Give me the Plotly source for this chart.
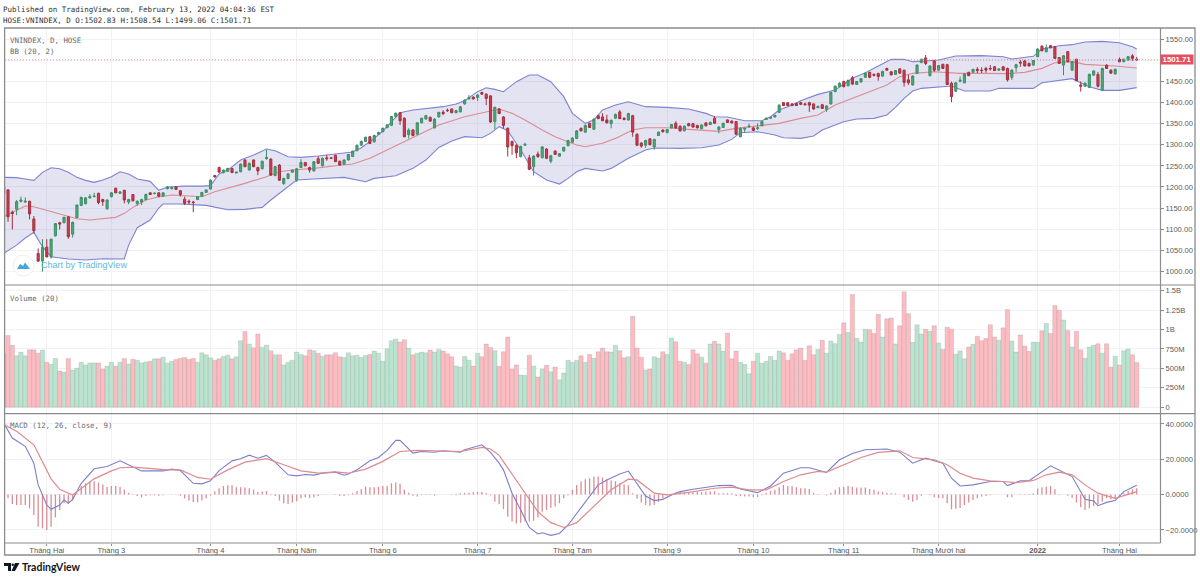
import plotly.graph_objects as go
from plotly.subplots import make_subplots

# price candles, bar 0 is the one cut off by the left edge
opens = [1199,1193,1140,1147,1166,1164,1166,1124,1042,1024,
    1057,1034,1084,1115,1115,1129,1088,1127,1156,1160,
    1174,1177,1185,1170,1148,1177,1197,1185,1192,1164,
    1182,1161,1164,1170,1186,1184,1186,1178,1196,1196,
    1200,1191,1171,1166,1164,1170,1178,1187,1195,1227,
    1246,1234,1237,1244,1233,1236,1264,1240,1264,1246,
    1243,1267,1266,1227,1252,1208,1220,1235,1216,1246,
    1258,1246,1238,1267,1250,1269,1269,1275,1261,1254,
    1264,1272,1286,1299,1308,1319,1307,1325,1331,1341,
    1346,1367,1376,1363,1324,1335,1325,1352,1361,1365,
    1340,1366,1377,1382,1385,1376,1378,1397,1409,1413,
    1412,1424,1420,1416,1355,1385,1366,1339,1308,1299,
    1272,1299,1269,1248,1278,1269,1290,1261,1285,1273,
    1285,1298,1306,1315,1339,1330,1351,1337,1369,1366,
    1359,1350,1363,1378,1363,1359,1369,1325,1304,1299,
    1314,1295,1322,1335,1329,1340,1351,1344,1333,1350,
    1350,1346,1338,1352,1348,1363,1336,1341,1359,1356,
    1355,1319,1337,1343,1340,1339,1345,1360,1363,1366,
    1377,1400,1400,1397,1398,1400,1397,1400,1397,1388,
    1395,1384,1397,1426,1438,1450,1440,1459,1443,1449,
    1460,1472,1467,1469,1463,1481,1473,1467,1480,1477,
    1454,1442,1469,1495,1506,1464,1499,1477,1491,1490,
    1446,1427,1451,1447,1472,1472,1479,1477,1481,1481,
    1485,1477,1485,1481,1460,1483,1496,1499,1493,1489,
    1509,1534,1521,1535,1533,1507,1489,1521,1477,1503,
    1442,1439,1436,1465,1467,1430,1489,1477,1468,1503,
    1497,1501,1511,1502.83]
highs = [1201,1195,1144,1169,1177,1175,1167,1131,1054,1076,
    1076,1077,1114,1117,1129,1130,1118,1158,1177,1176,
    1183,1186,1186,1172,1170,1188,1198,1190,1193,1172,
    1183,1168,1172,1184,1187,1187,1187,1187,1202,1200,
    1202,1192,1177,1170,1167,1178,1188,1194,1218,1228,
    1248,1241,1245,1245,1236,1256,1265,1258,1265,1248,
    1262,1288,1268,1250,1254,1222,1232,1241,1245,1266,
    1259,1248,1261,1273,1270,1276,1271,1276,1262,1265,
    1278,1286,1300,1310,1319,1321,1324,1331,1341,1349,
    1368,1376,1378,1365,1339,1337,1354,1364,1371,1367,
    1363,1378,1382,1386,1386,1383,1392,1408,1418,1415,
    1420,1426,1422,1418,1390,1387,1368,1341,1310,1301,
    1298,1305,1276,1275,1284,1296,1292,1276,1287,1280,
    1295,1312,1318,1335,1341,1348,1352,1363,1371,1375,
    1371,1360,1374,1382,1365,1376,1371,1327,1306,1312,
    1315,1314,1331,1337,1337,1349,1356,1346,1346,1352,
    1352,1347,1348,1353,1355,1368,1344,1352,1360,1358,
    1356,1341,1341,1350,1342,1351,1356,1364,1366,1371,
    1396,1401,1401,1399,1400,1402,1400,1402,1398,1393,
    1397,1394,1426,1441,1448,1452,1454,1463,1451,1458,
    1471,1473,1469,1471,1476,1483,1475,1477,1482,1478,
    1466,1465,1491,1504,1513,1488,1501,1489,1492,1492,
    1450,1449,1462,1469,1473,1480,1484,1484,1485,1489,
    1487,1481,1487,1483,1479,1492,1501,1501,1495,1501,
    1529,1536,1538,1537,1534,1508,1513,1522,1499,1504,
    1450,1448,1469,1477,1473,1483,1491,1479,1481,1507,
    1504,1510,1515,1508.54]
lows = [1183,1117,1099,1133,1163,1163,1123,1090,1022,999,
    1033,1030,1082,1099,1114,1077,1080,1126,1155,1159,
    1172,1175,1159,1155,1146,1175,1185,1184,1161,1159,
    1166,1155,1157,1168,1181,1183,1175,1177,1194,1194,
    1193,1177,1157,1159,1140,1169,1177,1186,1194,1222,
    1234,1232,1236,1233,1232,1235,1247,1239,1247,1228,
    1242,1265,1226,1225,1214,1205,1218,1234,1212,1245,
    1249,1234,1237,1255,1249,1262,1266,1259,1251,1253,
    1263,1271,1285,1298,1307,1302,1305,1323,1330,1339,
    1345,1365,1347,1318,1315,1320,1324,1351,1360,1355,
    1339,1365,1370,1378,1375,1375,1377,1395,1407,1407,
    1404,1419,1394,1352,1337,1373,1339,1272,1276,1268,
    1270,1297,1240,1227,1269,1268,1266,1256,1276,1272,
    1284,1296,1305,1314,1332,1329,1340,1335,1361,1356,
    1351,1339,1361,1361,1358,1357,1319,1297,1293,1293,
    1299,1288,1321,1329,1327,1339,1338,1331,1332,1344,
    1341,1339,1337,1344,1347,1350,1327,1340,1352,1350,
    1324,1318,1329,1340,1333,1335,1344,1359,1361,1365,
    1376,1392,1392,1392,1392,1394,1394,1378,1383,1387,
    1385,1378,1395,1425,1437,1436,1439,1442,1442,1448,
    1459,1458,1462,1452,1461,1476,1464,1466,1468,1438,
    1442,1440,1468,1494,1489,1462,1473,1476,1480,1442,
    1401,1425,1448,1446,1463,1471,1470,1470,1471,1476,
    1475,1476,1476,1450,1454,1473,1485,1486,1486,1488,
    1508,1522,1519,1529,1504,1492,1465,1496,1476,1451,
    1426,1438,1435,1465,1436,1427,1480,1468,1467,1496,
    1496,1500,1499,1499.06]
closes = [1185,1129,1137,1165,1169,1166,1136,1096,1024,1057,
    1034,1076,1113,1112,1128,1082,1116,1157,1175,1174,
    1177,1178,1163,1165,1169,1186,1186,1188,1169,1170,
    1167,1166,1170,1182,1182,1185,1178,1186,1200,1198,
    1194,1182,1161,1164,1163,1177,1187,1193,1216,1224,
    1235,1240,1244,1234,1235,1254,1248,1256,1248,1238,
    1261,1270,1228,1248,1216,1220,1231,1240,1243,1258,
    1250,1240,1260,1256,1268,1267,1268,1260,1252,1264,
    1277,1285,1299,1308,1318,1303,1322,1329,1339,1347,
    1367,1375,1357,1319,1335,1322,1352,1363,1369,1356,
    1361,1377,1374,1381,1376,1381,1390,1406,1412,1409,
    1418,1420,1410,1354,1389,1374,1346,1295,1298,1281,
    1296,1301,1242,1273,1272,1295,1268,1274,1277,1279,
    1294,1310,1316,1333,1333,1346,1341,1361,1362,1357,
    1352,1358,1372,1362,1360,1374,1330,1299,1297,1310,
    1300,1313,1330,1331,1336,1348,1340,1333,1344,1345,
    1342,1340,1347,1345,1353,1351,1342,1351,1353,1352,
    1325,1339,1339,1344,1334,1340,1355,1363,1365,1370,
    1394,1393,1393,1393,1393,1396,1395,1394,1385,1391,
    1386,1392,1424,1439,1446,1438,1453,1444,1450,1457,
    1470,1460,1465,1462,1474,1477,1466,1476,1470,1448,
    1447,1463,1489,1503,1493,1487,1477,1488,1481,1443,
    1414,1447,1453,1468,1464,1479,1476,1476,1477,1480,
    1476,1480,1477,1454,1477,1490,1494,1487,1487,1500,
    1527,1523,1530,1530,1505,1493,1511,1497,1497,1452,
    1439,1446,1467,1475,1439,1481,1481,1470,1479,1497,
    1503,1509,1505,1501.71]

# volume in millions
volumes = [696,922,796,661,709,661,739,739,696,735,
    578,552,626,465,448,626,478,504,578,544,
    570,570,570,491,526,578,526,578,626,557,
    617,604,570,583,591,622,622,644,565,591,
    613,630,639,613,626,578,700,674,635,604,
    622,652,670,622,648,857,974,813,765,943,
    770,800,726,674,674,544,578,604,709,678,
    661,739,726,696,657,674,674,700,648,639,
    700,661,670,639,665,678,722,696,591,752,
    857,878,839,870,761,674,696,709,700,735,
    709,744,722,687,648,530,517,652,604,530,
    696,648,813,770,726,526,713,904,491,544,
    413,409,670,530,387,491,539,457,517,352,
    439,604,574,604,661,578,678,630,713,761,
    713,709,796,726,635,648,1170,761,644,478,
    491,648,630,713,678,891,844,591,578,548,
    739,687,644,565,813,848,813,722,957,622,
    722,578,552,430,591,696,565,591,652,604,
    722,700,604,687,739,761,600,791,674,744,
    861,696,852,817,935,1087,961,1452,887,839,
    1004,996,948,1196,904,1139,1148,813,1048,1487,
    1204,835,1061,943,1004,978,1048,826,744,1030,
    1004,683,726,622,774,809,913,857,883,1061,
    904,861,1022,1257,852,709,930,787,717,839,
    835,983,1078,948,1309,1248,1122,987,774,978,
    739,630,774,796,817,696,817,513,657,544,
    726,748,674,574]

macd_hist = [-1.5,-2.1,-5.3,-5.9,-5.9,-5.9,-7.8,-11.6,-18.2,-19.1,
    -20.1,-18.2,-12.9,-8.7,-4.9,-4.9,-3.4,0.8,4.9,6.4,
    7.4,7.6,6.8,5.7,4.5,4.9,4.9,4.5,2.7,1.1,
    0.4,-0.8,-1.5,-0.8,-0.4,-0.4,-0.6,-0.4,0,0.2,
    0.2,-0.6,-2.1,-3.4,-4.2,-4.4,-3.4,-2.1,-0.6,1.7,
    3.6,4.9,5.3,5.3,4.2,4.2,4,3.6,2.7,1.5,
    1.7,2.1,-0.4,-0.8,-3.4,-4.9,-5.3,-4.5,-3.8,-2.1,
    -1.5,-1.9,-1.5,-0.8,-0.2,0.2,0.2,-0.2,-0.8,-0.8,
    -0.4,0.8,2.1,3.2,4.5,4.2,4.2,4.5,4.9,4.9,
    6.4,6.8,6.1,2.7,1.1,-0.6,-1.1,-0.4,-0.2,-0.2,
    -0.6,0,0,0,-0.2,-0.4,0.8,0.9,1.1,1.3,
    1.5,1.5,0.9,-0.4,-4,-5.5,-8.1,-12.5,-15.3,-16.5,
    -15.9,-15.3,-15.3,-14.8,-12.9,-9.7,-8.7,-7.4,-6.8,-4.9,
    -2.1,-0.4,2.7,5.5,7.4,8.7,9.3,10.2,10.2,9.7,
    8.7,8,7.6,6.4,5.7,5.3,0.8,-2.3,-4.5,-5.9,
    -6.3,-5.9,-4,-2.1,-0.4,0.4,1.3,1.5,1.1,1.5,
    1.3,1.5,1.5,1.7,1.7,1.9,0.8,0.8,0.8,0.8,
    -0.8,-1,-1.1,-1.1,-1.3,-1.5,-0.4,1.1,2.1,2.7,
    4.2,5.5,4.9,4.7,4.2,3.6,3.6,3.2,1.1,0.4,
    0,-0.4,1.1,2.7,4.2,4.5,4.9,4.5,4,4,
    4,3.2,2.7,1.7,1.5,1.1,0.8,0.6,0,-1.5,
    -3,-4,-3,-0.6,0,-0.4,-1.5,-1.9,-2.1,-4.9,
    -8.3,-8,-7.6,-5.9,-4.5,-3,-2.1,-1.1,-0.8,-0.2,
    0,0,0,-1.5,-1.5,0,0.4,0.4,0.4,0.8,
    3.4,4.2,4.5,4.9,3,0.4,0,-0.6,-1.9,-4.5,
    -7.2,-8.7,-7.8,-6.4,-5.5,-4,-2.1,-2.7,-2.1,-1.1,
    0.8,2.1,3,3.6]

# lines are read at the bars where they bend
bb_upper_bars = [0,3,5,7,9,11,13,15,17,19,21,23,25,27,29,31,34,36,38,42,46,48,50,52,55,58,61,63,66,69,73,77,81,83,86,88,91,92,
    95,99,102,105,107,110,112,114,116,119,122,124,127,130,132,135,137,139,142,145,149,154,159,163,165,168,172,176,178,180,183,
    185,189,193,197,200,204,206,209,211,214,217,219,221,227,232,234,239,241,245,248,251,255,259,262,263]
bb_upper = [1222.7,1222,1219,1215.6,1234.6,1245.6,1243.3,1234.6,1222.7,1215.6,1210.8,1216.4,1224,1236,1230.6,1218.7,1213.2,1191.8,1199.8,1202,1202,1203,1230.6,1240,1263.8,1275.7,1290,1286,1271.7,1270,1273.3,1278,1282.8,1293,1315.2,1332.6,1366.6,1376.1,
    1382.5,1386.4,1390.4,1396.7,1404.6,1426,1435.4,1431.5,1426,1449.7,1465.5,1465.5,1449.7,1414.1,1374.5,1350.8,1358.7,1382.5,1394.3,1402.2,1390.4,1388.8,1384.8,1374.5,1366.6,1365.8,1357.1,1357.1,1366.6,1382.5,1394.3,
    1404.6,1419.6,1429.9,1457.6,1471,1493.2,1502.7,1502.7,1497.2,1498.7,1501.1,1505.9,1510.6,1511.4,1509,1503.5,1509.8,1527.2,1535.1,1537.5,1543.8,1545.4,1542.2,1532.8,1527.2]
bb_lower_bars = [0,3,5,7,9,11,15,19,23,28,29,31,34,36,37,41,47,52,56,60,62,65,68,72,79,84,86,91,
    95,98,101,104,107,111,113,115,117,120,123,126,129,131,133,135,139,141,145,149,151,157,162,166,169,171,175,179,181,
    185,188,190,193,195,198,202,205,207,209,211,213,217,220,223,229,231,239,241,245,248,250,252,255,259,263]
bb_lower = [1042.3,1062,1078.7,1092.2,1058.2,1034.4,1029,1026.5,1029.7,1029,1062,1103.2,1121.4,1150,1159.4,1159.4,1156.2,1146,1146.8,1151.5,1169,1192.6,1216.4,1218.7,1222.7,1212.4,1220.3,1226.6,
    1244,1263.8,1293.8,1308.9,1319.2,1316.8,1327,1342.9,1333.4,1287.5,1236.1,1216.3,1206.8,1220.3,1236.1,1244,1237.7,1244,1267.8,1287.5,1292.3,1291.5,1293,1299.4,1312.8,1328.7,1331,1323.1,1316.8,
    1315.2,1320.8,1335,1346.9,1354.8,1361.1,1362.7,1370.6,1388.8,1410.1,1427.5,1433.9,1437.8,1439.4,1427.5,1427.5,1433.9,1433.9,1447.3,1452,1456.8,1447.3,1437.8,1429.1,1429.1,1435.5]
bb_basis_bars = [0,3,5,7,9,13,17,20,23,26,28,30,33,36,39,43,46,49,52,56,61,64,67,72,77,81,85,89,92,
    96,101,107,112,115,118,121,125,128,131,133,135,139,142,146,149,154,159,166,170,175,180,
    185,189,193,197,201,205,208,211,216,219,222,228,233,237,241,244,248,251,258,263]
bb_basis = [1129.4,1143.6,1154.6,1153,1147.5,1137.3,1124.6,1121.4,1124.6,1127.8,1137.3,1151.5,1169,1176.8,1180.8,1179.2,1176.8,1188.7,1196.6,1208.4,1224.3,1236.1,1240,1244,1250.4,1254.3,1267.8,1287.6,1303.4,
    1323.1,1346.8,1366.6,1378.5,1384.8,1374.5,1358.7,1335,1319.2,1307.3,1299.4,1295.4,1303.4,1315.2,1335,1340.5,1340.5,1336.6,1331.8,1339,1344.5,1350.8,
    1362.7,1370.6,1394.3,1410.2,1426,1441.8,1461.6,1469.5,1473.4,1471.8,1469.5,1469.5,1468.7,1471.8,1481.3,1494.8,1497.2,1490.8,1486.9,1482.1]

macd_bars = [0,2,5,7,8,10,11,13,14,15,16,18,21,24,27,30,32,37,39,41,44,46,48,50,53,55,57,59,61,63,66,68,70,72,74,77,79,80,82,85,87,89,91,
    92,93,95,97,100,102,106,107,111,113,115,116,118,120,122,124,125,127,129,131,133,136,138,140,143,145,147,149,151,153,155,157,160,163,166,169,171,175,178,181,
    185,187,191,194,197,200,205,208,211,214,218,220,222,225,229,232,233,236,238,243,246,248,251,253,254,256,258,260,263]
macd_line = [40.5,32,27.3,17.8,5.5,-5.9,-8.3,-5.9,-3,-4.9,-2.7,6.4,14.6,15.9,19.1,15.9,13.4,13.4,14.4,13.6,6.4,6.1,7.8,13.6,19.1,20.3,22.3,20.6,22.2,18.4,11.2,10.6,11.4,11,12.1,12.7,11,11.7,14,19.1,21,25,30.7,
    30.7,28.2,23.5,24.4,24,24.8,24,25.4,28.2,23.9,17.8,14,0.8,-8.7,-18.6,-22.3,-21.6,-23.1,-22,-17.2,-10.6,-0.8,5.5,8.3,11.7,13.3,6.1,-0.8,-3.4,-2.7,-0.2,1.7,3,4,5.1,5.3,3.2,1.1,4.9,12.1,
    15.2,15.2,12.5,19.7,23.3,25.4,25.8,24,17.8,20.6,17.8,9.3,4.9,5.5,7.4,7.4,5.1,7.8,7.8,16.3,12.5,10.2,-2.7,-3.6,-6.3,-4.4,-3.4,1.7,5.3]
signal_bars = [0,3,7,9,11,13,16,18,21,25,27,30,34,38,41,45,48,52,56,61,65,69,73,77,80,84,88,92,
    96,100,106,111,113,115,118,121,124,127,130,133,137,141,145,147,151,154,159,165,169,173,177,181,
    185,189,191,195,199,203,208,211,216,219,222,225,229,232,235,239,242,245,248,251,254,258,263]
signal_line = [39.6,35.8,28.2,18.8,8.9,3,-0.2,3.4,8.9,13.4,15.2,15.5,14.6,14,14,9.7,8.7,14,18.4,20.3,16.9,13.4,12.1,12.9,12.1,14.4,18.8,24.4,
    25,24.6,24.4,26.7,25.8,22.2,11.6,1.3,-9.7,-15.9,-18.6,-15.9,-6.8,2.7,8.7,8.3,0.8,-0.2,1.3,3.6,4.2,2.7,2.7,7.4,
    11.2,13.1,12.7,16.9,21,23.9,24.8,21,19.7,16.9,12.1,9.3,7.8,7.4,6.8,8,11.2,12.7,11.2,5.5,0.8,-2.1,1.7]

month_bars = [10,25,48,68,88,110,132,154,174,195,217,240,259]
month_labels = ["Tháng Hai","Tháng 3","Tháng 4","Tháng Năm","Tháng 6","Tháng 7","Tháng Tám","Tháng 9",
                "Tháng 10","Tháng 11","Tháng Mười hai","<b>2022</b>","Tháng Hai"]
price_ticks = [1000,1050,1100,1150,1200,1250,1300,1350,1400,1450,1500,1550]
# the 1500 label sits under the last price tag in the reference
price_labels = ["1000.00","1050.00","1100.00","1150.00","1200.00","1250.00","1300.00","1350.00","1400.00","1450.00","","1550.00"]
volume_ticks = [0,250,500,750,1000,1250,1500]
volume_labels = ["0","250M","500M","750M","1B","1.25B","1.5B"]
macd_ticks = [-20,0,20,40]
last_close = 1501.71

W, H = 1200, 579
MONO = "DejaVu Sans Mono"
SANS = "Liberation Sans"
GRID = "#f0f2f6"
FRAME = "#8c8c8c"

def py(p):
    return 1 - p / H

def px(p):
    return p / W

bars = list(range(len(closes)))
up = [c >= o for o, c in zip(opens, closes)]

fig = make_subplots(rows=3, cols=1, shared_xaxes=True)

# bands go on the main axis so the candles (overlay axis) sit on top of the fill
fig.add_trace(go.Scatter(x=bb_upper_bars, y=bb_upper, mode="lines", line=dict(color="#7f82d2", width=1.1)), row=1, col=1)
fig.add_trace(go.Scatter(x=bb_lower_bars, y=bb_lower, mode="lines", line=dict(color="#7f82d2", width=1.1),
                         fill="tonexty", fillcolor="rgba(125,125,190,0.21)"), row=1, col=1)
fig.add_trace(go.Scatter(x=bb_basis_bars, y=bb_basis, mode="lines", line=dict(color="#dc8c94", width=1.1)), row=1, col=1)
fig.add_trace(go.Candlestick(x=bars, open=opens, high=highs, low=lows, close=closes, yaxis="y4", xaxis="x",
                             increasing=dict(line=dict(color="#3d8f66", width=1), fillcolor="#52a57a"),
                             decreasing=dict(line=dict(color="#a5303f", width=1), fillcolor="#d03c50"),
                             whiskerwidth=0))

vol_colors = ["#bbe4d0" if u else "#fcbcc2" for u in up]
fig.add_trace(go.Bar(x=bars, y=volumes, width=1, marker=dict(color=vol_colors, line=dict(color="rgba(130,130,130,0.35)", width=0.6))), row=2, col=1)

# bars would snap to 2px here, thin stems stay closer to the original
hist_x, hist_y = [], []
for b, v in zip(bars, macd_hist):
    hist_x += [b, b, None]
    hist_y += [0, v, None]
fig.add_trace(go.Scatter(x=hist_x, y=hist_y, mode="lines", line=dict(color="#d98d96", width=1.3)), row=3, col=1)
fig.add_trace(go.Scatter(x=macd_bars, y=macd_line, mode="lines", line=dict(color="#7b7ecb", width=1.1)), row=3, col=1)
fig.add_trace(go.Scatter(x=signal_bars, y=signal_line, mode="lines", line=dict(color="#de8a8f", width=1.2)), row=3, col=1)

x_range = [0.3, 268.4]
price_range = [1550 - (285 - 39.4) / 0.4215, 1550 + (39.4 - 28) / 0.4215]
for i in (1, 2, 3):
    fig.update_xaxes(row=i, col=1, range=x_range, domain=[px(5), px(1160)], tickvals=month_bars, ticktext=month_labels,
                     showgrid=True, gridcolor=GRID, gridwidth=1, zeroline=False, rangeslider_visible=False, showline=False,
                     showticklabels=(i == 3), ticks="outside" if i == 3 else "", ticklen=2, tickcolor=FRAME,
                     ticklabelstandoff=-2, tickfont=dict(family=SANS, size=7.6, color="#555555"))

axis_font = dict(family=SANS, size=7.6, color="#5a5a5a")
common_y = dict(side="right", showgrid=True, gridcolor=GRID, gridwidth=1, zeroline=False, ticks="outside", ticklen=3,
                tickcolor=FRAME, tickfont=axis_font, showline=False)
fig.update_yaxes(row=1, col=1, domain=[py(285), py(28)], range=price_range, tickvals=price_ticks, ticktext=price_labels, **common_y)
fig.update_yaxes(row=2, col=1, domain=[py(413.5), py(285)], range=[-82, 1574], tickvals=volume_ticks, ticktext=volume_labels, **common_y)
fig.update_yaxes(row=3, col=1, domain=[py(543), py(413.5)], range=[-27.4, 45.9], tickvals=macd_ticks, tickformat=".4f", **common_y)

shapes = [
    dict(type="rect", xref="paper", yref="paper", x0=px(4.6), x1=px(1195), y0=py(555), y1=py(28), line=dict(color=FRAME, width=1.3)),
    dict(type="line", xref="paper", yref="paper", x0=px(1160.5), x1=px(1160.5), y0=py(543), y1=py(28), line=dict(color=FRAME, width=1.2)),
    dict(type="line", xref="paper", yref="paper", x0=px(4.6), x1=px(1195), y0=py(285), y1=py(285), line=dict(color=FRAME, width=1.2)),
    dict(type="line", xref="paper", yref="paper", x0=px(4.6), x1=px(1195), y0=py(413.7), y1=py(413.7), line=dict(color=FRAME, width=1.2)),
    dict(type="line", xref="paper", yref="paper", x0=px(4.6), x1=px(1160.5), y0=py(543), y1=py(543), line=dict(color=FRAME, width=1.2)),
    dict(type="line", xref="x", yref="y", x0=x_range[0], x1=x_range[1], y0=last_close, y1=last_close,
         line=dict(color="#e6808c", width=0.9, dash="1px,2px")),
    # Chart by TradingView badge
    dict(type="circle", xref="paper", yref="paper", x0=px(13), x1=px(34), y0=py(276), y1=py(255),
         fillcolor="white", line=dict(color="#eeeeee", width=1), layer="above"),
    dict(type="path", xref="paper", yref="paper", layer="above", fillcolor="#45a5dc", line=dict(width=0),
         path=f"M {px(17)} {py(269)} L {px(20)} {py(264)} L {px(23)} {py(266)} L {px(25)} {py(262.5)} L {px(30)} {py(269)} Z"),
    # bottom logo
    dict(type="path", xref="paper", yref="paper", fillcolor="#131722", line=dict(width=0),
         path=f"M {px(4)} {py(563)} L {px(11)} {py(563)} L {px(11)} {py(571)} L {px(8)} {py(571)} L {px(8)} {py(566)} L {px(4)} {py(566)} Z"),
    dict(type="circle", xref="paper", yref="paper", fillcolor="#131722", line=dict(width=0),
         x0=px(11.5), x1=px(14), y0=py(566), y1=py(563.5)),
    dict(type="path", xref="paper", yref="paper", fillcolor="#131722", line=dict(width=0),
         path=f"M {px(15)} {py(563)} L {px(19.5)} {py(563)} L {px(15)} {py(571)} L {px(11.5)} {py(571)} Z"),
]

def note(x, y, text, size=7.4, color="#6b6b6b", family=MONO, anchor="left", **kw):
    return dict(x=px(x), y=py(y), xref="paper", yref="paper", text=text, showarrow=False, xanchor=anchor, yanchor="middle",
                font=dict(family=family, size=size, color=color), borderpad=0, **kw)

annotations = [
    note(2, 9.5, "Published on TradingView.com, February 13, 2022 04:04:36 EST", size=7.5, color="#333333"),
    note(2, 20.5, "HOSE:VNINDEX, D O:1502.83 H:1508.54 L:1499.06 C:1501.71", size=7.5, color="#333333"),
    note(9, 40.5, "VNINDEX, D, HOSE"),
    note(9, 51.5, "BB (20, 2)"),
    note(9, 298, "Volume (20)"),
    note(9, 426, "MACD (12, 26, close, 9)"),
    note(40, 265, "Chart by TradingView", size=9, color="#60b8e0", family=SANS),
    note(21, 567, "<b>TradingView</b>", size=10.5, color="#131722", family="Lato"),
    dict(x=px(1177), y=last_close, xref="paper", yref="y", text="<b>1501.71</b>", showarrow=False, xanchor="center",
         font=dict(family=SANS, size=7.8, color="white"), bgcolor="#e4505f", width=32, height=9, borderpad=0),
]

fig.update_layout(
    width=W, height=H, showlegend=False, paper_bgcolor="white", plot_bgcolor="white",
    margin=dict(l=0, r=0, t=0, b=0, autoexpand=False), barmode="overlay", shapes=shapes, annotations=annotations,
    yaxis4=dict(overlaying="y", domain=[py(285), py(28)], range=price_range, visible=False),
)

fig.write_html("out.html", config={"displayModeBar": False}, post_script="document.body.style.margin='0';")
